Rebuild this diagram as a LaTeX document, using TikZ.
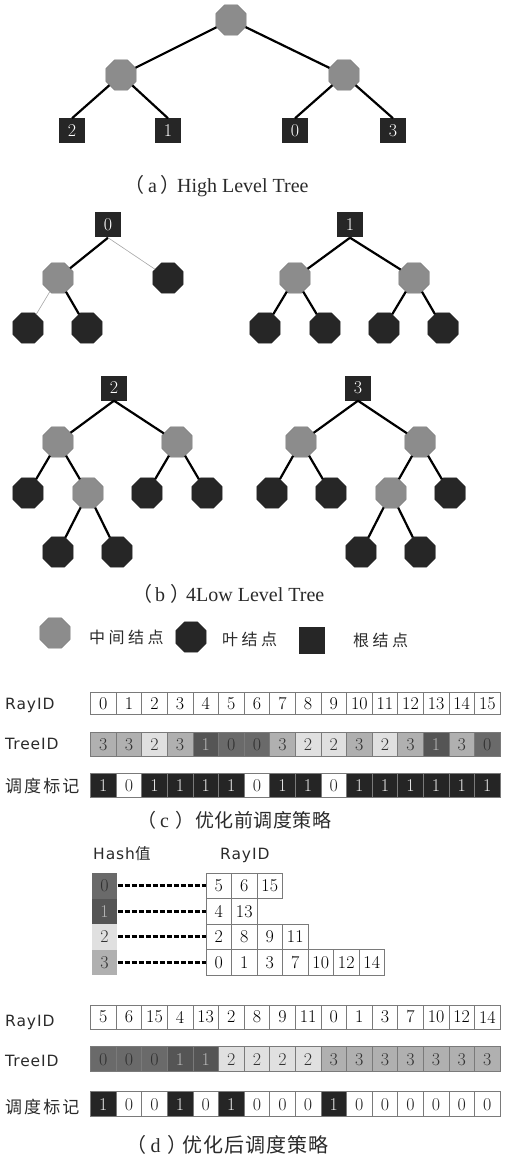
\documentclass[tikz,border=0pt]{standalone}
\usepackage{fontspec}
\usetikzlibrary{shapes.geometric}
\newfontfamily\cjk{Noto Sans CJK SC}
\newfontfamily\cjklegend[LetterSpace=22]{Noto Sans CJK SC}
\newfontfamily\cjklabel[LetterSpace=12]{Noto Sans CJK SC}
\newfontfamily\cjkcapc[LetterSpace=3]{Noto Sans CJK SC}
\newfontfamily\cjkcapd[LetterSpace=5]{Noto Sans CJK SC}
\newfontfamily\lblfont[LetterSpace=6]{DejaVu Sans}
\newfontfamily\capfont{Liberation Serif}

\definecolor{midgray}{HTML}{8C8C8C}
\definecolor{leafdark}{HTML}{262626}
\definecolor{tid0}{HTML}{6A6A6A}
\definecolor{tid1}{HTML}{555555}
\definecolor{tid2}{HTML}{E0E0E0}
\definecolor{tid3}{HTML}{B0B0B0}
\definecolor{tidtext0}{HTML}{303030}
\definecolor{tidtext1}{HTML}{B5B5B5}
\definecolor{tidtext2}{HTML}{333333}
\definecolor{tidtext3}{HTML}{333333}
\definecolor{sch0}{HTML}{FFFFFF}
\definecolor{sch1}{HTML}{252525}
\definecolor{schtext0}{HTML}{222222}
\definecolor{schtext1}{HTML}{E8E8E8}
\definecolor{cellline}{HTML}{7A7A7A}
\definecolor{labeltext}{HTML}{2A2A2A}

\tikzset{
  midnode/.style={regular polygon, regular polygon sides=8, minimum size=33pt,
    inner sep=0pt, fill=midgray, draw=midgray!85!black, line width=0.3pt},
  leafnode/.style={midnode, fill=leafdark, draw=leafdark},
  rootsq/.style={rectangle, fill=leafdark, minimum width=26pt, minimum height=25pt,
    inner sep=0pt, text=white, font=\fontsize{18}{18}\selectfont},
  branch/.style={line width=2.2pt, black},
  faint/.style={line width=0.6pt, gray!70},
  cellbox/.style={rectangle, draw=cellline, line width=0.5pt, minimum width=25.6pt,
    minimum height=24pt, inner sep=0pt, font=\fontsize{18}{18}\selectfont},
  rowlabel/.style={anchor=base west, inner sep=0pt, text=labeltext,
    font=\fontsize{15.5}{15.5}\lblfont},
  cjkrowlabel/.style={anchor=base west, inner sep=0pt, text=labeltext,
    font=\fontsize{17}{17}\cjklabel},
  legendtext/.style={anchor=base west, inner sep=0pt, text=labeltext,
    font=\fontsize{16}{16}\cjklegend},
  caption/.style={anchor=base west, inner sep=0pt, text=labeltext,
    font=\fontsize{20}{20}\selectfont},
  hashlink/.style={line width=3pt, black, dash pattern=on 5pt off 2pt},
}

\begin{document}
\begin{tikzpicture}[x=1pt, y=-1pt]
\useasboundingbox (0,0) rectangle (508,1158);

% ---------- (a) high level tree ----------
\node[midnode] (a) at (231,20) {};
\node[midnode] (al) at (121,75) {};
\node[midnode] (ar) at (344,75) {};
\node[rootsq] (a2) at (72,131) {2};
\node[rootsq] (a1) at (168,131) {1};
\node[rootsq] (a0) at (295,131) {0};
\node[rootsq] (a3) at (393,131) {3};
\draw[branch] (a) -- (al);
\draw[branch] (a) -- (ar);
\draw[branch] (al) -- (a2.north);
\draw[branch] (al) -- (a1.north);
\draw[branch] (ar) -- (a0.north);
\draw[branch] (ar) -- (a3.north);
\node[caption] (capa) at (124,193) {{\cjk （}\hspace{4pt}{\capfont a}\hspace{3pt}{\cjk ）}\hspace{-3pt}{\capfont High Level Tree}};

% ---------- (b) four low level trees ----------
% tree 0
\node[rootsq] (t0) at (108,225) {0};
\node[midnode] (t0m) at (58,278) {};
\node[leafnode] (t0r) at (168,278) {};
\node[leafnode] (t0a) at (28,328) {};
\node[leafnode] (t0b) at (87,328) {};
\draw[branch] (t0.south) -- (t0m);
\draw[faint] (t0.south) -- (t0r);
\draw[faint] (t0m) -- (t0a);
\draw[branch] (t0m) -- (t0b);
% tree 1
\node[rootsq] (t1) at (350,225) {1};
\node[midnode] (t1l) at (295,278) {};
\node[midnode] (t1r) at (414,278) {};
\node[leafnode] (t1a) at (265,328) {};
\node[leafnode] (t1b) at (325,328) {};
\node[leafnode] (t1c) at (384,328) {};
\node[leafnode] (t1d) at (443,328) {};
\draw[branch] (t1.south) -- (t1l);
\draw[branch] (t1.south) -- (t1r);
\draw[branch] (t1l) -- (t1a);
\draw[branch] (t1l) -- (t1b);
\draw[branch] (t1r) -- (t1c);
\draw[branch] (t1r) -- (t1d);
% tree 2
\node[rootsq] (t2) at (114,388) {2};
\node[midnode] (t2l) at (58,442) {};
\node[midnode] (t2r) at (177,442) {};
\node[leafnode] (t2a) at (28,493) {};
\node[midnode] (t2m) at (88,493) {};
\node[leafnode] (t2b) at (147,493) {};
\node[leafnode] (t2c) at (207,493) {};
\node[leafnode] (t2d) at (58,552) {};
\node[leafnode] (t2e) at (117,552) {};
\draw[branch] (t2.south) -- (t2l);
\draw[branch] (t2.south) -- (t2r);
\draw[branch] (t2l) -- (t2a);
\draw[branch] (t2l) -- (t2m);
\draw[branch] (t2r) -- (t2b);
\draw[branch] (t2r) -- (t2c);
\draw[branch] (t2m) -- (t2d);
\draw[branch] (t2m) -- (t2e);
% tree 3
\node[rootsq] (t3) at (358,388) {3};
\node[midnode] (t3l) at (301,442) {};
\node[midnode] (t3r) at (420,442) {};
\node[leafnode] (t3a) at (272,493) {};
\node[leafnode] (t3b) at (331,493) {};
\node[midnode] (t3m) at (391,493) {};
\node[leafnode] (t3c) at (450,493) {};
\node[leafnode] (t3d) at (361,552) {};
\node[leafnode] (t3e) at (420,552) {};
\draw[branch] (t3.south) -- (t3l);
\draw[branch] (t3.south) -- (t3r);
\draw[branch] (t3l) -- (t3a);
\draw[branch] (t3l) -- (t3b);
\draw[branch] (t3r) -- (t3m);
\draw[branch] (t3r) -- (t3c);
\draw[branch] (t3m) -- (t3d);
\draw[branch] (t3m) -- (t3e);
\node[caption] (capb) at (132,601) {{\cjk （}\hspace{3pt}{\capfont b}\hspace{5pt}{\cjk ）}\hspace{-4pt}{\capfont 4Low Level Tree}};

% ---------- legend ----------
\node[midnode] (lg1) at (55,633) {};
\node[legendtext] (lt1) at (89,643) {中间结点};
\node[leafnode] (lg2) at (191,637) {};
\node[legendtext] (lt2) at (222,645) {叶结点};
\node[rootsq, minimum height=27pt] (lg3) at (312,640) {};
\node[legendtext] (lt3) at (353,646) {根结点};

% ---------- (c) schedule before optimisation ----------
\node[rowlabel] (cl1) at (5,709) {RayID};
\node[rowlabel] (cl2) at (5,749) {TreeID};
\node[cjkrowlabel] (cl3) at (5,792) {调度标记};
\foreach \v [count=\i from 0] in {0,1,2,3,4,5,6,7,8,9,10,11,12,13,14,15}
  \node[cellbox, minimum height=22pt] (cr\i) at ({90.5+25.6*(\i+0.5)},703.5) {\v};
\foreach \v [count=\i from 0] in {3,3,2,3,1,0,0,3,2,2,3,2,3,1,3,0}
  \node[cellbox, fill=tid\v, text=tidtext\v] (ct\i) at ({90.5+25.6*(\i+0.5)},744.5) {\v};
\foreach \v [count=\i from 0] in {1,0,1,1,1,1,0,1,1,0,1,1,1,1,1,1}
  \node[cellbox, fill=sch\v, text=schtext\v] (cs\i) at ({90.5+25.6*(\i+0.5)},785.5) {\v};
\node[caption] (capc) at (137.5,827) {{\fontsize{19}{19}\cjk （}\hspace{3.5pt}{\capfont c}\hspace{6pt}{\fontsize{19}{19}\cjk ）}\hspace{1pt}{\fontsize{19}{19}\cjkcapc 优化前调度策略}};

% ---------- hash buckets ----------
\node[anchor=base west, inner sep=0pt, text=labeltext, font=\fontsize{15.5}{15.5}\lblfont] (hl) at (93,859) {Hash{\cjk 值}};
\node[rowlabel] (hr) at (220,859) {RayID};
\foreach \k in {0,1,2,3}
  \node[cellbox, draw=none, fill=tid\k, text=tidtext\k, minimum height=25.5pt] (hash\k) at (104.5,{873+25.5*(\k+0.5)}) {\k};
\foreach \v [count=\j from 0] in {5,6,15}
  \node[cellbox, minimum width=25.5pt, minimum height=25.5pt] (b0-\j) at ({206+25.5*(\j+0.5)},885.75) {\v};
\foreach \v [count=\j from 0] in {4,13}
  \node[cellbox, minimum width=25.5pt, minimum height=25.5pt] (b1-\j) at ({206+25.5*(\j+0.5)},911.25) {\v};
\foreach \v [count=\j from 0] in {2,8,9,11}
  \node[cellbox, minimum width=25.5pt, minimum height=25.5pt] (b2-\j) at ({206+25.5*(\j+0.5)},936.75) {\v};
\foreach \v [count=\j from 0] in {0,1,3,7,10,12,14}
  \node[cellbox, minimum width=25.5pt, minimum height=25.5pt] (b3-\j) at ({206+25.5*(\j+0.5)},962.25) {\v};
\foreach \k in {0,1,2,3}
  \draw[hashlink] (hash\k.east) -- (b\k-0.west);

% ---------- (d) schedule after optimisation ----------
\node[rowlabel] (dl1) at (5,1026) {RayID};
\node[rowlabel] (dl2) at (5,1066) {TreeID};
\node[cjkrowlabel] (dl3) at (5,1113) {调度标记};
\foreach \v [count=\i from 0] in {5,6,15,4,13,2,8,9,11,0,1,3,7,10,12,14}
  \node[cellbox] (dr\i) at ({90.5+25.6*(\i+0.5)},1017) {\v};
\foreach \v [count=\i from 0] in {0,0,0,1,1,2,2,2,2,3,3,3,3,3,3,3}
  \node[cellbox, fill=tid\v, text=tidtext\v, minimum height=25pt] (dt\i) at ({90.5+25.6*(\i+0.5)},1059.2) {\v};
\foreach \v [count=\i from 0] in {1,0,0,1,0,1,0,0,0,1,0,0,0,0,0,0}
  \node[cellbox, fill=sch\v, text=schtext\v, minimum height=25pt] (ds\i) at ({90.5+25.6*(\i+0.5)},1104.2) {\v};
\node[caption] (capd) at (126,1152) {{\cjk （}\hspace{4.5pt}{\capfont d}\hspace{6.5pt}{\cjk ）}\hspace{-5pt}{\cjkcapd 优化后调度策略}};
\end{tikzpicture}
\end{document}
